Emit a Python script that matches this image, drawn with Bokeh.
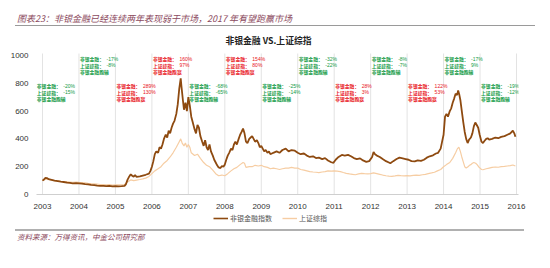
from bokeh.plotting import figure
from bokeh.layouts import column
from bokeh.models import ColumnDataSource, FixedTicker, Label, Legend, LegendItem, Div
from bokeh.core.properties import value
from bokeh.embed import file_html
from bokeh.resources import INLINE

# ---------------- data ----------------
YEAR_TICKS = list(range(2003, 2017))
Y_TICKS = [0, 200, 400, 600, 800, 1000]

nb_x = [2003.00, 2003.04, 2003.08, 2003.12, 2003.17, 2003.25, 2003.33, 2003.42, 2003.50, 2003.58, 2003.67, 2003.75, 2003.83, 2003.92,
        2004.00, 2004.08, 2004.17, 2004.25, 2004.33, 2004.42, 2004.50, 2004.58, 2004.67, 2004.75, 2004.83, 2004.92,
        2005.00, 2005.08, 2005.17, 2005.25, 2005.29, 2005.33, 2005.38, 2005.42, 2005.46, 2005.50, 2005.54, 2005.58, 2005.67, 2005.75, 2005.83, 2005.92, 2005.96,
        2006.00, 2006.04, 2006.08, 2006.12, 2006.17, 2006.21, 2006.25, 2006.29, 2006.33, 2006.38, 2006.42, 2006.46, 2006.50, 2006.54, 2006.58, 2006.62, 2006.67, 2006.71, 2006.75, 2006.79, 2006.81, 2006.85, 2006.88, 2006.92, 2006.96,
        2007.00, 2007.04, 2007.08, 2007.12, 2007.17, 2007.21, 2007.25, 2007.29, 2007.33, 2007.38, 2007.42, 2007.46, 2007.50, 2007.54, 2007.58, 2007.62, 2007.67, 2007.71, 2007.75, 2007.79, 2007.83, 2007.88, 2007.92, 2007.96,
        2008.00, 2008.04, 2008.08, 2008.12, 2008.17, 2008.21, 2008.25, 2008.29, 2008.33, 2008.38, 2008.42, 2008.46, 2008.50, 2008.54, 2008.58, 2008.62, 2008.67, 2008.71, 2008.75, 2008.79, 2008.83, 2008.88, 2008.92, 2008.96,
        2009.00, 2009.04, 2009.08, 2009.12, 2009.17, 2009.21, 2009.25, 2009.33, 2009.42, 2009.50, 2009.58, 2009.67, 2009.75, 2009.83, 2009.92,
        2010.00, 2010.08, 2010.17, 2010.25, 2010.33, 2010.42, 2010.50, 2010.58, 2010.67, 2010.75, 2010.83, 2010.92, 2010.98,
        2011.04, 2011.12, 2011.21, 2011.29, 2011.38, 2011.46, 2011.54, 2011.62, 2011.71, 2011.79, 2011.88, 2011.96,
        2012.04, 2012.08, 2012.12, 2012.17, 2012.25, 2012.33, 2012.42, 2012.50, 2012.54, 2012.62, 2012.71, 2012.79, 2012.88, 2012.96,
        2013.04, 2013.12, 2013.21, 2013.29, 2013.38, 2013.46, 2013.54, 2013.62, 2013.71, 2013.79, 2013.85, 2013.92, 2013.96,
        2014.00, 2014.04, 2014.08, 2014.12, 2014.17, 2014.21, 2014.25, 2014.29, 2014.33, 2014.37, 2014.40, 2014.43, 2014.46, 2014.50, 2014.54, 2014.58, 2014.62, 2014.66, 2014.70, 2014.75, 2014.79, 2014.83, 2014.87, 2014.91, 2014.95, 2014.99,
        2015.04, 2015.08, 2015.12, 2015.17, 2015.21, 2015.25, 2015.33, 2015.42, 2015.50, 2015.58, 2015.67, 2015.75, 2015.83, 2015.90, 2015.94, 2015.97]
nb_y = [100, 108, 120, 118, 110, 106, 100, 96, 92, 90, 86, 84, 80, 82,
        80, 78, 75, 73, 70, 67, 64, 62, 62, 60, 62, 58,
        60, 58, 60, 62, 75, 105, 130, 145, 135, 128, 140, 126, 130, 136, 142, 150, 170,
        200, 240, 290, 310, 300, 340, 330, 360, 400, 430, 410, 460, 440, 480, 510, 530, 580, 650, 760, 835, 780, 680, 610, 660, 600,
        700, 640, 560, 520, 470, 440, 500, 480, 420, 380, 350, 390, 340, 320, 360, 310, 280, 250, 230, 210, 195, 190, 205, 200,
        215, 250, 280, 300, 330, 320, 360, 380, 360, 400, 430, 450, 475, 440, 380, 370, 400, 410, 420, 400, 380, 390, 370, 340,
        350, 330, 310, 320, 300, 310, 290, 300, 310, 300, 320, 330, 310, 320, 315,
        300, 290, 295, 280, 270, 275, 262, 265, 255, 262, 245, 232, 228,
        250, 270, 285, 280, 285, 275, 262, 255, 260, 245, 235, 240,
        270, 305, 290, 280, 270, 255, 240, 230, 225, 240, 255, 265, 260, 255,
        250, 240, 238, 245, 242, 250, 265, 275, 282, 295, 300, 330, 380,
        430, 560, 580, 560, 600, 620, 660, 690, 725, 715, 748, 720, 680, 600, 520, 450, 400, 370, 395, 410, 440, 490, 518, 500, 480, 430,
        380, 370, 385, 400, 405, 395, 400, 410, 405, 415, 420, 430, 440, 460, 440, 415]

sse_x = [2003.00, 2003.08, 2003.17, 2003.25, 2003.33, 2003.42, 2003.50, 2003.58, 2003.67, 2003.75, 2003.83, 2003.92,
         2004.00, 2004.08, 2004.17, 2004.25, 2004.33, 2004.42, 2004.50, 2004.58, 2004.67, 2004.75, 2004.83, 2004.92,
         2005.00, 2005.08, 2005.17, 2005.25, 2005.33, 2005.42, 2005.50, 2005.58, 2005.67, 2005.75, 2005.83, 2005.92,
         2006.00, 2006.08, 2006.17, 2006.25, 2006.33, 2006.42, 2006.50, 2006.58, 2006.67, 2006.75, 2006.79, 2006.83, 2006.88, 2006.92, 2006.96,
         2007.00, 2007.04, 2007.08, 2007.17, 2007.25, 2007.33, 2007.42, 2007.50, 2007.58, 2007.67, 2007.75, 2007.83, 2007.92,
         2008.00, 2008.08, 2008.17, 2008.25, 2008.33, 2008.42, 2008.50, 2008.54, 2008.58, 2008.67, 2008.75, 2008.83, 2008.92,
         2009.00, 2009.08, 2009.17, 2009.25, 2009.33, 2009.42, 2009.50, 2009.58, 2009.67, 2009.75, 2009.83, 2009.92,
         2010.00, 2010.08, 2010.17, 2010.25, 2010.33, 2010.42, 2010.50, 2010.58, 2010.67, 2010.75, 2010.83, 2010.92,
         2011.00, 2011.08, 2011.17, 2011.25, 2011.33, 2011.42, 2011.50, 2011.58, 2011.67, 2011.75, 2011.83, 2011.92,
         2012.00, 2012.08, 2012.17, 2012.25, 2012.33, 2012.42, 2012.50, 2012.58, 2012.67, 2012.75, 2012.83, 2012.92,
         2013.00, 2013.08, 2013.17, 2013.25, 2013.33, 2013.42, 2013.50, 2013.58, 2013.67, 2013.75, 2013.83, 2013.92,
         2014.00, 2014.08, 2014.17, 2014.25, 2014.33, 2014.38, 2014.42, 2014.46, 2014.50, 2014.54, 2014.58, 2014.62, 2014.67, 2014.71, 2014.75, 2014.79, 2014.83, 2014.88, 2014.92, 2014.96,
         2015.00, 2015.04, 2015.08, 2015.17, 2015.25, 2015.33, 2015.42, 2015.50, 2015.58, 2015.67, 2015.75, 2015.83, 2015.90, 2015.97]
sse_y = [100, 110, 106, 104, 100, 98, 95, 93, 92, 90, 88, 89,
         87, 86, 83, 80, 78, 76, 74, 72, 72, 70, 72, 68,
         70, 69, 70, 72, 90, 105, 100, 104, 108, 112, 118, 130,
         150, 170, 185, 200, 225, 245, 270, 300, 340, 380, 400, 370, 350, 370, 340,
         360, 340, 300, 280, 290, 260, 230, 210, 200, 175, 150, 135, 140,
         135, 150, 170, 185, 195, 215, 230, 225, 195, 200, 200, 210, 205,
         210, 200, 195, 185, 190, 185, 180, 185, 190, 190, 195, 190,
         190, 180, 175, 170, 165, 162, 160, 158, 162, 165, 170, 168,
         170, 168, 165, 158, 152, 148, 145, 142, 148, 152, 150, 148,
         150, 155, 150, 145, 140, 135, 132, 130, 134, 138, 136, 134,
         136, 134, 138, 140, 138, 142, 145, 150, 155, 160, 170, 180,
         200, 215, 230, 260, 300, 330, 340, 310, 270, 235, 200, 190, 200, 210, 215, 225, 230, 225, 215, 200,
         190, 180, 178, 185, 190, 195, 198, 196, 200, 202, 205, 208, 212, 205]

perf_years = list(range(2004, 2017))
nb_ret = ["-20%", "-17%", "289%", "160%", "-68%", "154%", "-25%", "-32%", "28%", "-8%", "122%", "-17%", "-19%"]
sse_ret = ["-15%", "-8%", "130%", "97%", "-65%", "80%", "-14%", "-22%", "3%", "-7%", "53%", "9%", "-12%"]
verdict = ["非银金融跑输", "非银金融跑输", "非银金融跑赢", "非银金融跑赢", "非银金融跑输", "非银金融跑赢", "非银金融跑输",
           "非银金融跑输", "非银金融跑赢", "非银金融跑输", "非银金融跑赢", "非银金融跑输", "非银金融跑输"]
LABEL_NB = "非银金融："
LABEL_SSE = "上证综指："
HEADER = "图表23：非银金融已经连续两年表现弱于市场，2017 年有望跑赢市场"
CHART_TITLE = "非银金融 VS.上证综指"
SOURCE = "资料来源：万得资讯，中金公司研究部"
SERIES_NAMES = ["非银金融指数", "上证综指"]

# ---------------- style / layout ----------------
RED = "#E8141B"
GREEN = "#119A45"
MAROON = "#8C4A5E"
NB_COLOR = "#8E4A10"
SSE_COLOR = "#F6CDA3"
CJK = "Noto Sans CJK SC"
LAT = "Liberation Sans"

HEADER_H = 32            # canvas y 0..32
MAIN_BOTTOM = 212        # main figure canvas y 32..212
LEG_BOTTOM = 226         # legend strip canvas y 212..226
FOOTER_H = 268 - LEG_BOTTOM
FRAME_LEFT, FRAME_RIGHT = 36, 518
FRAME_TOP, FRAME_BOTTOM = 34, 194   # canvas px
PX_PER_UNIT = 0.139
X0, X1 = 2002.835, 2016.055
Y0 = 0
Y1 = (FRAME_BOTTOM - FRAME_TOP) / PX_PER_UNIT

p = figure(width=550, height=MAIN_BOTTOM - HEADER_H, x_range=(X0, X1), y_range=(Y0, Y1),
           title=None, output_backend="svg", toolbar_location=None,
           min_border_left=FRAME_LEFT, min_border_right=550 - FRAME_RIGHT,
           min_border_top=FRAME_TOP - HEADER_H,
           min_border_bottom=MAIN_BOTTOM - FRAME_BOTTOM)
p.outline_line_color = None
p.background_fill_color = "white"
p.border_fill_color = "white"

p.xaxis.ticker = FixedTicker(ticks=YEAR_TICKS)
p.xaxis.axis_line_color = "#cfcfcf"
p.xaxis.major_tick_line_color = None
p.xaxis.minor_tick_line_color = None
p.xaxis.major_label_text_font = LAT
p.xaxis.major_label_text_font_size = "8px"
p.xaxis.major_label_text_color = "#333333"
p.xaxis.major_label_standoff = 3

p.yaxis.ticker = FixedTicker(ticks=Y_TICKS)
p.yaxis.axis_line_color = None
p.yaxis.major_tick_line_color = None
p.yaxis.minor_tick_line_color = None
p.yaxis.major_label_text_font = LAT
p.yaxis.major_label_text_font_size = "8px"
p.yaxis.major_label_text_color = "#333333"
p.yaxis.major_label_standoff = 2

p.xgrid.grid_line_color = None
p.ygrid.grid_line_color = None

# vertical year gridlines (stop just above the annotation blocks)
GRID_TOP = (FRAME_BOTTOM - 53) / PX_PER_UNIT
p.segment(x0=YEAR_TICKS, y0=[Y0] * len(YEAR_TICKS), x1=YEAR_TICKS, y1=[GRID_TOP] * len(YEAR_TICKS),
          line_color="#e3e3e3", line_width=1)

p.line(sse_x, sse_y, line_color=SSE_COLOR, line_width=1.2)
p.line(nb_x, nb_y, line_color=NB_COLOR, line_width=1.8)

# annotation blocks
PX_PER_YEAR = (FRAME_RIGHT - FRAME_LEFT) / (X1 - X0)
lab_x, num_x, lab_y, lab_t, lab_c, num_t, num_y, num_c = [], [], [], [], [], [], [], []
for k, yr in enumerate(perf_years):
    start = (yr - 1) + 1.0 / PX_PER_YEAR
    if k == 0:
        start = X0 + 0.3 / PX_PER_YEAR
    top_px = 85 if k % 2 == 0 else 58
    y1 = (FRAME_BOTTOM - top_px) / PX_PER_UNIT
    step = 6.5 / PX_PER_UNIT
    col = RED if verdict[k].endswith("赢") else GREEN
    for i, (lt, nt) in enumerate([(LABEL_NB, nb_ret[k]), (LABEL_SSE, sse_ret[k]), (verdict[k], None)]):
        yy = y1 - i * step
        lab_x.append(start); lab_y.append(yy); lab_t.append(lt); lab_c.append(col)
        if nt is not None:
            num_x.append(start + 26.5 / PX_PER_YEAR); num_y.append(yy); num_t.append(nt); num_c.append(col)

p.text(x="x", y="y", text="t", text_color="c",
       source=ColumnDataSource(dict(x=lab_x, y=lab_y, t=lab_t, c=lab_c)),
       text_font=value(CJK), text_font_style="bold", text_font_size=value("4.8px"),
       text_baseline="middle", text_align="left")
p.text(x="x", y="y", text="t", text_color="c",
       source=ColumnDataSource(dict(x=num_x, y=num_y, t=num_t, c=num_c)),
       text_font=value(LAT), text_font_size=value("5px"),
       text_baseline="middle", text_align="left")

# chart title inside the frame
p.add_layout(Label(x=268 - FRAME_LEFT, y=FRAME_BOTTOM - 40, x_units="screen", y_units="screen",
                   text=CHART_TITLE, text_font=CJK, text_font_size="8.8px",
                   text_font_style="bold", text_color="#222222",
                   text_align="center", text_baseline="middle"))

# legend strip (a small figure without axes; same side borders as the main plot).
# The proxy lines carry the real series but fall outside this strip's ranges.
lf = figure(width=550, height=LEG_BOTTOM - MAIN_BOTTOM, x_range=(0, 1), y_range=(0, 1),
            x_axis_type=None, y_axis_type=None,
            title=None, output_backend="svg", toolbar_location=None,
            min_border_left=FRAME_LEFT, min_border_right=550 - FRAME_RIGHT,
            min_border_top=0, min_border_bottom=0)
lf.outline_line_color = None
lf.background_fill_color = "white"
lf.border_fill_color = "white"
l_nb = lf.line(nb_x, nb_y, line_color=NB_COLOR, line_width=1.6)
l_sse = lf.line(sse_x, sse_y, line_color=SSE_COLOR, line_width=1.4)
legend = Legend(items=[LegendItem(label=SERIES_NAMES[0], renderers=[l_nb]),
                       LegendItem(label=SERIES_NAMES[1], renderers=[l_sse])],
                location=(213 - FRAME_LEFT, 3), orientation="horizontal",
                glyph_width=15, glyph_height=8, label_height=8, label_standoff=2,
                spacing=10, padding=0, margin=0, border_line_color=None,
                background_fill_alpha=0, label_text_font=CJK,
                label_text_font_size="7px", label_text_color="#555555")
lf.add_layout(legend)

header = Div(width=550, height=HEADER_H, styles={"margin": "0", "padding": "0"}, text=(
    '<div style="position:relative;width:550px;height:%dpx;background:#fff;margin:0;padding:0;">'
    '<div style="position:absolute;left:17px;top:12px;font-family:\'%s\';font-size:9px;'
    'font-style:italic;color:%s;line-height:14px;white-space:nowrap;">%s</div>'
    '<div style="position:absolute;left:15px;top:25px;width:520px;height:0;border-top:1px solid #9a9a9a;"></div>'
    '</div>') % (HEADER_H, CJK, MAROON, HEADER))
footer = Div(width=550, height=FOOTER_H, styles={"margin": "0", "padding": "0"}, text=(
    '<div style="position:relative;width:550px;height:%dpx;background:#fff;margin:0;padding:0;">'
    '<div style="position:absolute;left:15px;top:3px;width:509px;height:0;border-top:2px solid #b0b0b0;"></div>'
    '<div style="position:absolute;left:17px;top:5px;font-family:\'%s\';font-size:7.5px;'
    'font-style:italic;color:%s;line-height:12px;white-space:nowrap;">%s</div>'
    '</div>') % (FOOTER_H, CJK, MAROON, SOURCE))

layout = column(header, p, lf, footer, spacing=0)
open("out.html", "w").write(file_html(layout, INLINE))
